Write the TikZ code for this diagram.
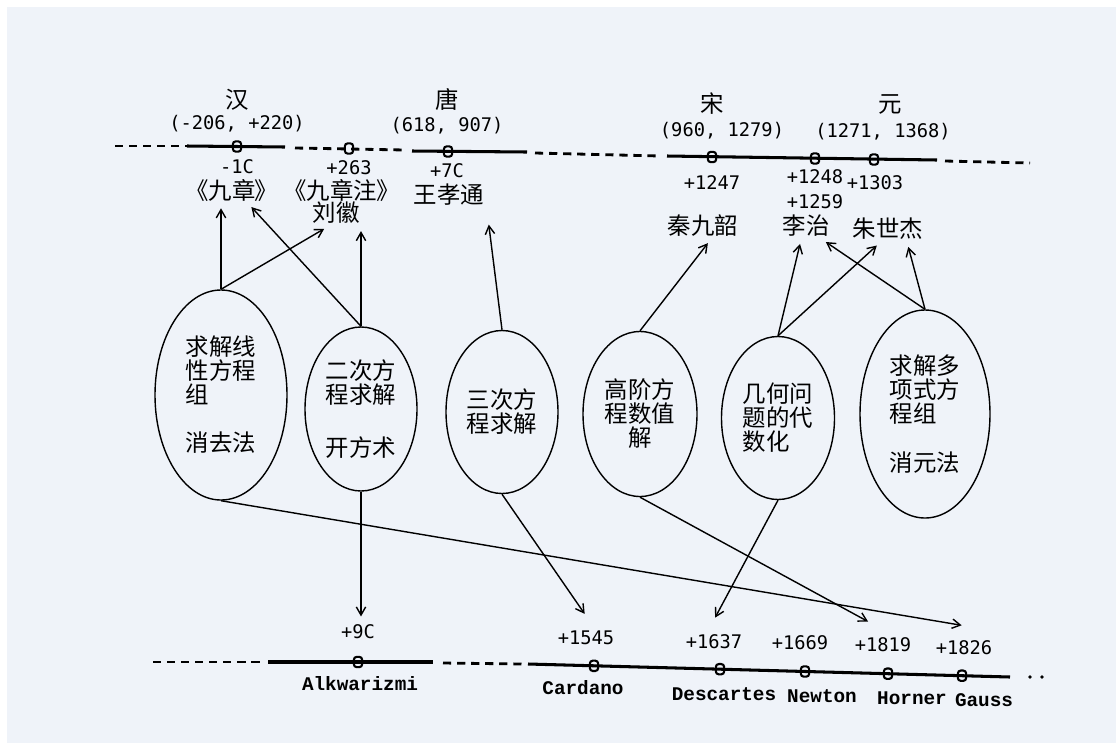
\documentclass[tikz,border=0pt]{standalone}
\usepackage{fontspec}
\newfontfamily\cjk{Noto Sans CJK SC}
\newfontfamily\cjkp{Noto Sans CJK SC}[RawFeature=+palt]
\newfontfamily\numfont{DejaVu Sans Mono}
\newfontfamily\namefont{Liberation Mono}
\usetikzlibrary{shapes.geometric,arrows.meta}
\definecolor{paper}{RGB}{239,243,249}
\tikzset{
  era/.style={font=\cjk\fontsize{20}{22}\selectfont, inner sep=2pt},
  book/.style={font=\cjkp\fontsize{20}{22}\selectfont, inner sep=2pt},
  yr/.style={font=\numfont\fontsize{16}{18}\selectfont, inner sep=3pt},
  lowyr/.style={yr, outer sep=10pt},
  who/.style={font=\namefont\bfseries\fontsize{16.5}{18}\selectfont, inner sep=2pt},
  topic/.style={draw, ellipse, line width=1.2pt, inner sep=0pt, font=\cjk\fontsize{20}{20.5}\selectfont},
  dotmark/.style={draw, rectangle, rounded corners=2.5pt, line width=1.8pt, minimum width=0.25cm, minimum height=0.31cm, inner sep=0pt},
  axis/.style={line width=2.6pt},
  gap/.style={line width=2.4pt, dash pattern=on 7pt off 5pt},
  link/.style={line width=1.2pt, -{Straight Barb[length=7pt,width=8pt]}, shorten >=4pt}
}
\begin{document}
\begin{tikzpicture}[x=0.03cm, y=-0.03cm]
  \useasboundingbox (0,0) rectangle (1116,743);
  \fill[white] (0,0) rectangle (1116,743);
  \fill[paper] (7,7) rectangle (1116,743);

  % upper time line
  \draw[gap] (115,146) -- (187,146);
  \draw[axis] (187,146) -- (285,147);
  \draw[gap] (295,148) -- (405,150);
  \draw[axis] (412,151) -- (527,152);
  \draw[gap] (535,153) -- (660,156);
  \draw[axis] (667,156) -- (937,160);
  \draw[gap] (945,161) -- (1030,163);

  \node[dotmark] (m1c) at (237,146.5) {};
  \node[dotmark] (m263) at (349,148.5) {};
  \node[dotmark] (m7c) at (448,151.5) {};
  \node[dotmark] (m1247) at (712,157) {};
  \node[dotmark] (m1248) at (815,158.5) {};
  \node[dotmark] (m1303) at (874,159.5) {};

  \node[era] (han) at (237,100) {汉};
  \node[yr] (hany) at (237,124) {(-206, +220)};
  \node[era] (tang) at (447,99) {唐};
  \node[yr] (tangy) at (447,126) {(618, 907)};
  \node[era] (song) at (712,104) {宋};
  \node[yr] (songy) at (722,131) {(960, 1279)};
  \node[era] (yuan) at (890,104) {元};
  \node[yr] (yuany) at (883,132) {(1271, 1368)};

  \node[yr] (y1c) at (237,167) {-1C};
  \node[book] (jz) at (232,190) {《九章》};
  \node[yr] (y263) at (349,168) {+263};
  \node[book] (jzz) at (342,190) {《九章注》};
  \node[era] (lh) at (336,213) {刘徽};
  \node[yr] (y7c) at (447,171) {+7C};
  \node[era] (wxt) at (449,195) {王孝通};
  \node[yr] (y1247) at (712,183) {+1247};
  \node[yr] (y1248) at (815,177) {+1248};
  \node[yr] (y1259) at (815,202) {+1259};
  \node[yr] (y1303) at (875,183) {+1303};
  \node[era] (qjs) at (703,226) {秦九韶};
  \node[era] (lz) at (806,226) {李治};
  \node[era] (zsj) at (888,229) {朱世杰};

  % topics
  \node[topic, minimum width=3.96cm, minimum height=6.3cm, align=left] (e1) at (221,395)
    {求解线\\性方程\\组\\[20.5pt]消去法};
  \node[topic, minimum width=3.36cm, minimum height=4.92cm, align=left] (e2) at (361,409)
    {二次方\\程求解\\[25pt]开方术};
  \node[topic, minimum width=3.36cm, minimum height=4.89cm, align=left] (e3) at (502,412)
    {三次方\\程求解};
  \node[topic, minimum width=3.42cm, minimum height=4.95cm, align=center] (e4) at (640,414)
    {高阶方\\程数值\\解};
  \node[topic, minimum width=3.39cm, minimum height=4.89cm, align=left] (e5) at (778,418)
    {几何问\\题的代\\数化};
  \node[topic, minimum width=3.9cm, minimum height=6.24cm, align=left] (e6) at (925,414)
    {求解多\\项式方\\程组\\[22pt]消元法};

  % lower time line
  \draw[gap] (153,662) -- (263,662);
  \draw[axis] (268,662) -- (433,662);
  \draw[gap] (443,663) -- (522,664);
  \draw[axis] (528,664) -- (1010,677);
  \fill (1030,677) circle (1.6pt);
  \fill (1042,677) circle (1.6pt);

  \node[dotmark] (m9c) at (358,662) {};
  \node[dotmark] (m1545) at (594,665.8) {};
  \node[dotmark] (m1637) at (720,669.2) {};
  \node[dotmark] (m1669) at (805,671.5) {};
  \node[dotmark] (m1819) at (888,673.7) {};
  \node[dotmark] (m1826) at (962,675.7) {};

  \node[yr] (n9c) at (358,632) {+9C};
  \node[lowyr] (n1545) at (586,638) {+1545};
  \node[lowyr] (n1637) at (714,642) {+1637};
  \node[yr] (n1669) at (800,643) {+1669};
  \node[lowyr] (n1819) at (883,645) {+1819};
  \node[lowyr] (n1826) at (964,648) {+1826};

  \node[who] (alk) at (360,684) {Alkwarizmi};
  \node[who] (car) at (583,688) {Cardano};
  \node[who] (des) at (724,694) {Descartes};
  \node[who] (new) at (822,696) {Newton};
  \node[who] (hor) at (912,698) {Horner};
  \node[who] (gau) at (984,700) {Gauss};

  % links up
  \draw[link] (e1.north) -- (e1.north |- jz.south);
  \draw[link] (e1.north) -- (lh.-120);
  \draw[link] (e2.north) -- (e2.north |- lh.south);
  \draw[link] (e2.north) -- (jz.-40);
  \draw[link, shorten >=14pt] (e3.north) -- (wxt.south east);
  \draw[link] (e4.north) -- (qjs.-60);
  \draw[link] (e5.north) -- (lz.-110);
  \draw[link] (e5.north) -- (zsj.-120);
  \draw[link] (e6.north) -- (lz.-40);
  \draw[link] (e6.north) -- (zsj.-35);

  % links down
  \draw[link, shorten >=2pt] (e1.south) -- (n1826.north);
  \draw[link] (e2.south) -- (e2.south |- n9c.north);
  \draw[link, shorten >=2pt] (e3.south) -- (n1545.north);
  \draw[link, shorten >=2pt] (e4.south) -- (n1819.120);
  \draw[link, shorten >=2pt] (e5.south) -- (n1637.north);
\end{tikzpicture}
\end{document}
